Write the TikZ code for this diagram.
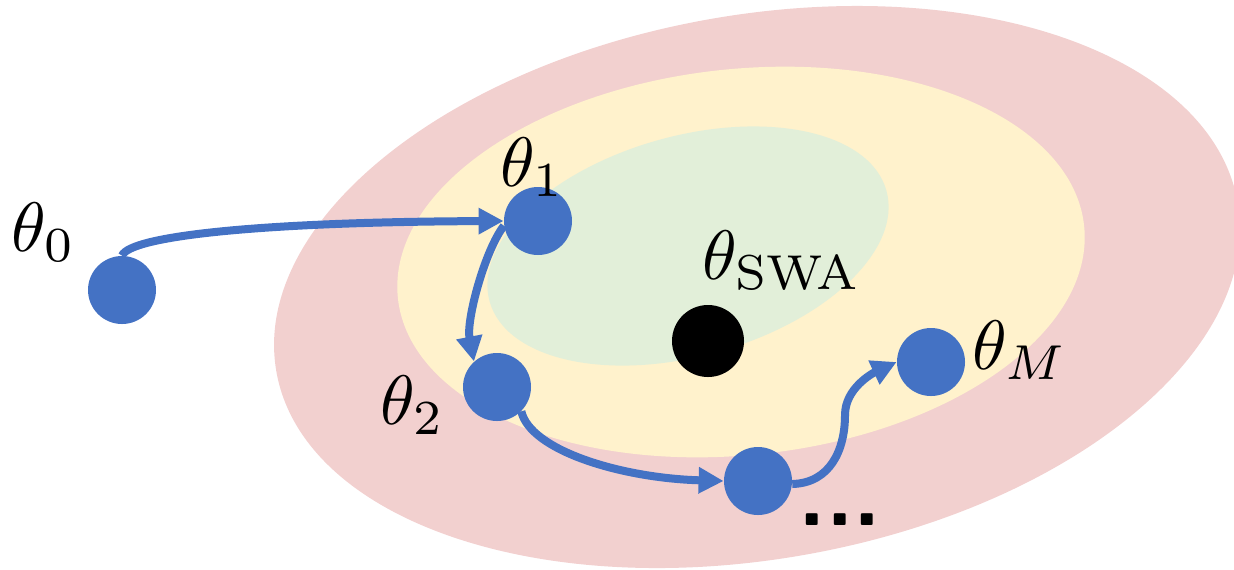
\documentclass[tikz,border=0pt]{standalone}
\usepackage{amsmath}
\usepackage{xcolor}
\usetikzlibrary{positioning,arrows.meta,calc}

\definecolor{outerPink}{RGB}{242,208,207}
\definecolor{midYellow}{RGB}{255,242,204}
\definecolor{innerGreen}{RGB}{226,239,217}
\definecolor{ptBlue}{RGB}{68,114,196}

\tikzset{
  ptnode/.style={circle,fill=ptBlue,inner sep=0pt,minimum size=34pt},
  swanode/.style={circle,fill=black,inner sep=0pt,minimum size=36pt},
  thlabel/.style={inner sep=0pt,outer sep=0pt,scale=3.5},
  steparrow/.style={draw=ptBlue,line width=4pt,-{Triangle[length=12.5pt,width=12.5pt]}}
}

\begin{document}
\begin{tikzpicture}[x=0.5pt,y=-0.5pt]
\path[use as bounding box] (0,0) rectangle (1234,569);
\begin{scope}
\clip (0,0) rectangle (1234,569);

% loss basins
\fill[outerPink,rotate around={10:(757,287)}] (757,287) ellipse [x radius=488,y radius=272];
\fill[midYellow,rotate around={6:(741,262)}] (741,262) ellipse [x radius=345,y radius=193];
\fill[innerGreen,rotate around={15.6:(688,246)}] (688,246) ellipse [x radius=206,y radius=110];
\end{scope}

% weights along the trajectory
\node[ptnode] (t0) at (122,290) {};
\node[ptnode] (t1) at (538,221) {};
\node[ptnode] (t2) at (497,387) {};
\node[ptnode] (t3) at (758,481) {};
\node[ptnode] (tM) at (931,362) {};
\node[swanode] (swa) at (708,341) {};

% labels
\node[thlabel] (l0) at (44,232) {$\theta_0$};
\node[thlabel] (l1) at (533,167) {$\theta_1$};
\node[thlabel] (l2) at (413,405) {$\theta_2$};
\node[thlabel] (lswa) at (782,260) {$\theta_{\mathrm{SWA}}$};
\node[thlabel] (lM) at (1020,350) {$\theta_M$};
\node[inner sep=0pt,scale=4.5,font=\sffamily\bfseries] (dots) at (840,520) {...};

% steps
\draw[steparrow] (t0.north) .. controls (130,236) and (260,222) .. (t1.west);
\draw[steparrow] (t1.188) .. controls (485,250) and (466,320) .. (t2.132);
\draw[steparrow] (t2.-45) .. controls (530,450) and (620,478) .. (t3.west);
\draw[steparrow] (t3.-5) .. controls (830,483) and (845,450) .. (845,415)
  .. controls (845,388) and (873,373) .. (tM.west);
\end{tikzpicture}
\end{document}
